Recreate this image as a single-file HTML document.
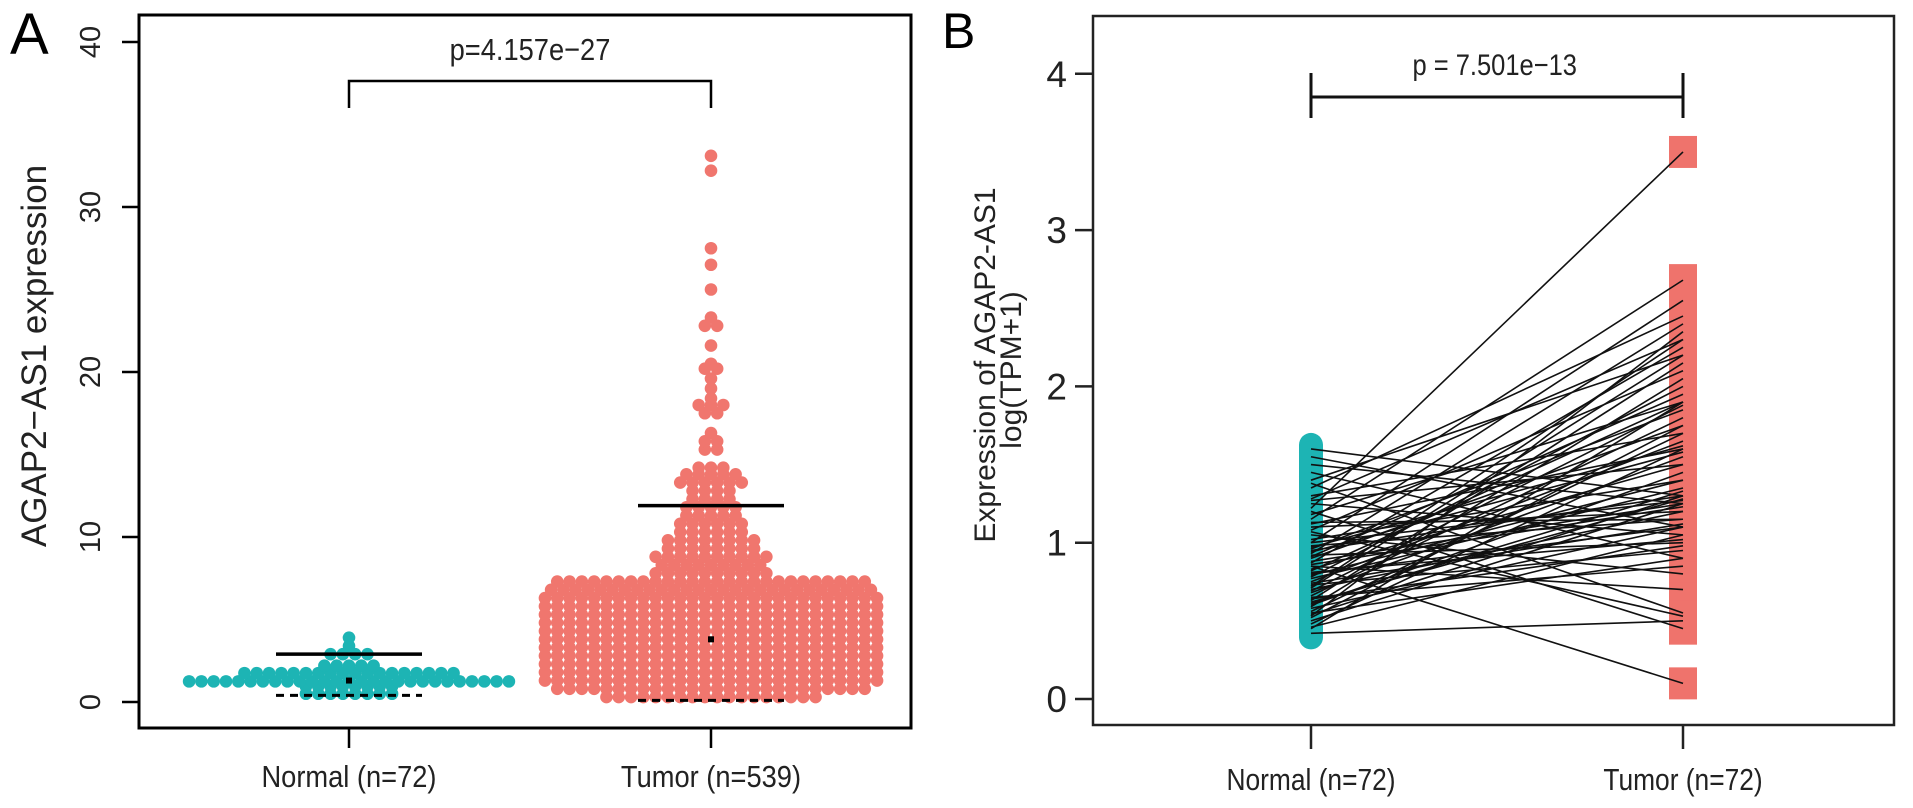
<!DOCTYPE html>
<html><head><meta charset="utf-8"><style>
html,body{margin:0;padding:0;background:#fff;}
svg{display:block;font-family:"Liberation Sans",sans-serif;}
</style></head><body>
<svg id="fig" width="1913" height="808" viewBox="0 0 1913 808" xmlns="http://www.w3.org/2000/svg">
<g id="pa"></g>
<g id="pb"></g>
</svg>
<script>
// ---------- Panel A data ----------
const groupsA = ["Normal (n=72)", "Tumor (n=539)"];
const ticksA = [0, 10, 20, 30, 40];
const normalBinValues = [0.5, 0.95, 1.25, 1.75, 2.2, 2.9, 3.4, 3.9];
const normalBinCounts = [8, 8, 27, 18, 5, 4, 1, 1];
const tumorBinValues = [0.3,0.8,1.3,1.8,2.3,2.8,3.3,3.8,4.3,4.8,5.3,5.8,6.3,6.8,7.3,7.8,8.3,8.8,9.3,9.8,10.3,10.8,11.3,11.8,12.3,12.8,13.3,13.8,14.2,15.3,15.8,16.3,17.5,18.0,18.4,19.0,19.6,20.2,20.5,21.6,22.8,23.3,25.0,26.5,27.5,32.2,33.1];
const tumorBinCounts = [18,26,28,28,28,28,28,28,28,28,28,28,28,27,26,10,9,10,8,8,6,6,5,5,4,4,6,5,3,2,2,1,2,3,1,1,1,2,1,1,2,1,1,1,1,1,1];
const normalStats = {q1:0.4, med:1.3, q3:2.9};
const tumorStats = {q1:0.1, med:3.8, q3:11.9};
const pLabelA = "p=4.157e\u221227";

// ---------- Panel B data ----------
const groupsB = ["Normal (n=72)", "Tumor (n=72)"];
const ticksB = [0, 1, 2, 3, 4];
const normalB = [1.22,0.85,0.42,1.6,1.55,1.5,1.45,1.4,1.38,1.3,1.28,1.25,1.2,1.18,1.15,1.12,1.1,1.08,1.05,1.02,1.0,0.98,0.96,0.95,0.93,0.92,0.9,0.88,0.87,0.85,0.83,0.82,0.8,0.78,0.77,0.75,0.73,0.72,0.7,0.68,0.66,0.65,0.63,0.62,0.6,0.58,0.56,0.55,0.53,0.5,0.48,0.46,0.45,1.35,1.27,1.13,1.07,0.97,0.91,0.86,0.79,0.74,0.69,0.64,0.59,0.54,0.52,1.0,0.94,0.81,0.71,0.61];
const tumorB = [3.5,0.1,0.5,1.3,1.1,1.25,0.9,2.2,0.55,1.7,2.3,1.05,0.45,1.9,2.68,1.6,1.2,2.1,0.8,1.4,2.55,1.15,1.85,1.3,2.4,1.0,1.75,1.25,2.25,0.7,1.5,1.9,1.1,2.0,1.35,1.65,0.95,2.3,1.2,1.55,1.8,0.85,2.15,1.28,1.45,1.1,1.7,0.9,2.35,1.25,1.6,1.05,1.9,2.45,1.5,1.15,0.53,1.62,1.95,1.23,1.4,1.12,1.88,0.98,2.05,1.3,1.75,1.27,1.58,1.02,2.2,1.33];
const pLabelB = "p = 7.501e\u221213";

const NS = "http://www.w3.org/2000/svg";
function mk(parent, tag, attrs, text) {
  const e = document.createElementNS(NS, tag);
  for (const k in attrs) e.setAttribute(k, attrs[k]);
  if (text !== undefined) e.textContent = text;
  parent.appendChild(e);
  return e;
}

// ================= PANEL A =================
(function(){
  const g = document.getElementById('pa');
  const L=139, R=911, T=15, B=728;
  const y = v => 702 - v * 16.5;
  const xs = [349, 711];
  const TEAL = "#1db4b4", RED = "#f0766e";

  let t = mk(g,'text',{x:10,y:54,'font-size':58},'A');
  
  

  let box = mk(g,'rect',{x:L,y:T,width:R-L,height:B-T,fill:'none',stroke:'#000','stroke-width':3});
  
  

  ticksA.forEach(v => {
    const tk = mk(g,'line',{x1:122,x2:L,y1:y(v),y2:y(v),stroke:'#000','stroke-width':2.5});
    
    
    const lb = mk(g,'text',{x:0,y:0,'font-size':29,fill:'#222','text-anchor':'middle',
      transform:`translate(100,${y(v)}) rotate(-90)`},String(v));
    
    
  });
  const yt = mk(g,'text',{x:0,y:0,'font-size':35,fill:'#222','text-anchor':'middle',
    transform:'translate(46,356) rotate(-90)'},'AGAP2\u2212AS1 expression');
  
  

  groupsA.forEach((name,i) => {
    const tk = mk(g,'line',{x1:xs[i],x2:xs[i],y1:B,y2:748,stroke:'#000','stroke-width':2.5});
    
    
    const lb = mk(g,'text',{x:xs[i],y:787,'font-size':31,fill:'#222','text-anchor':'middle',
      transform:`translate(${xs[i]*0.12},0) scale(0.88,1)`},name);
    
    
  });

  function swarm(vals, counts, cx, color, maxRow, nm){
    const sg = mk(g,'g',{});
    
    
    vals.forEach((v,bi) => {
      let n = counts[bi];
      const rows = Math.ceil(n / maxRow);
      for (let r=0;r<rows;r++){
        const m = Math.min(maxRow, n - r*maxRow);
        const yy = y(v) + (rows>1 ? (r-(rows-1)/2)*6 : 0);
        for (let j=0;j<m;j++){
          const off = (j-(m-1)/2)*12.3 + (r%2 ? 6 : 0);
          const c = mk(sg,'circle',{cx:cx+off,cy:yy,r:6.3,fill:color});
          
          
        }
      }
    });
  }
  swarm(normalBinValues, normalBinCounts, xs[0], TEAL, 27, 'normal-swarm');
  swarm(tumorBinValues, tumorBinCounts, xs[1], RED, 28, 'tumor-swarm');

  [[normalStats,xs[0],73],[tumorStats,xs[1],73]].forEach(([s,cx,hw],i)=>{
    const a = mk(g,'line',{x1:cx-hw,x2:cx+hw,y1:y(s.q3),y2:y(s.q3),stroke:'#000','stroke-width':3.5});
    
    
    const b = mk(g,'line',{x1:cx-hw,x2:cx+hw,y1:y(s.q1),y2:y(s.q1),stroke:'#000','stroke-width':3,'stroke-dasharray':'8 6'});
    
    
    const m = mk(g,'rect',{x:cx-3,y:y(s.med)-3,width:6,height:6,fill:'#000'});
    
    
  });

  const br = mk(g,'path',{d:`M${xs[0]},108 V81 H${xs[1]} V108`,fill:'none',stroke:'#000','stroke-width':2.5});
  
  
  const pt = mk(g,'text',{x:530,y:60,'font-size':31,fill:'#222','text-anchor':'middle',
    transform:'translate(63.6,0) scale(0.88,1)'},pLabelA);
  
  
})();

// ================= PANEL B =================
(function(){
  const g = document.getElementById('pb');
  const L=1093, R=1894, T=16, B=725;
  const y = v => 699 - v * 156.3;
  const xs = [1311, 1683];

  let t = mk(g,'text',{x:942,y:48,'font-size':50},'B');
  
  

  let box = mk(g,'rect',{x:L,y:T,width:R-L,height:B-T,fill:'none',stroke:'#222','stroke-width':2.5});
  
  

  ticksB.forEach(v => {
    const tk = mk(g,'line',{x1:1075,x2:L,y1:y(v),y2:y(v),stroke:'#222','stroke-width':2.5});
    
    
    const lb = mk(g,'text',{x:1067,y:y(v)+13,'font-size':37,fill:'#222','text-anchor':'end'},String(v));
    
    
  });
  const yt1 = mk(g,'text',{x:0,y:0,'font-size':30,fill:'#222','text-anchor':'middle',
    transform:'translate(995,365) rotate(-90)'},'Expression of AGAP2-AS1');
  
  
  const yt2 = mk(g,'text',{x:0,y:0,'font-size':30,fill:'#222','text-anchor':'middle',
    transform:'translate(1021,370) rotate(-90)'},'log(TPM+1)');
  
  

  groupsB.forEach((name,i) => {
    const tk = mk(g,'line',{x1:xs[i],x2:xs[i],y1:B,y2:749,stroke:'#222','stroke-width':2.5});
    
    
    const lb = mk(g,'text',{x:xs[i],y:790,'font-size':31,fill:'#222','text-anchor':'middle',
      transform:`translate(${xs[i]*0.15},0) scale(0.85,1)`},name);
    
    
  });

  tumorB.forEach(v => {
    const r = mk(g,'rect',{x:xs[1]-14,y:y(v)-16,width:28,height:32,fill:'#ef736c'});
    
    
  });
  normalB.forEach(v => {
    const r = mk(g,'rect',{x:xs[0]-12,y:y(v)-16,width:24,height:32,rx:12,fill:'#1db4b4'});
    
    
  });
  normalB.forEach((v,i) => {
    const ln = mk(g,'line',{x1:xs[0],y1:y(v),x2:xs[1],y2:y(tumorB[i]),stroke:'#111','stroke-width':1.6});
    
    
  });

  const br = mk(g,'path',{d:`M${xs[0]},73 V118 M${xs[0]},97 H${xs[1]} M${xs[1]},73 V118`,fill:'none',stroke:'#111','stroke-width':3});
  
  
  const pt = mk(g,'text',{x:1495,y:75,'font-size':30,fill:'#222','text-anchor':'middle',
    transform:'translate(224,0) scale(0.85,1)'},pLabelB);
  
  
})();
</script>
</body></html>
